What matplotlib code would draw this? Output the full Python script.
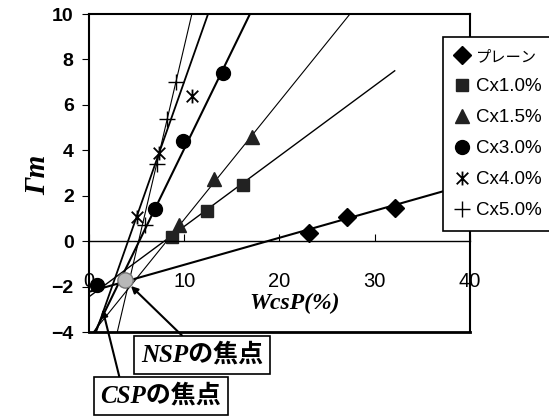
import matplotlib
matplotlib.use('Agg')
import matplotlib.pyplot as plt
from matplotlib.path import Path

# Data points
plain_x = [23.1, 27.1, 32.1]
plain_y = [0.35, 1.06, 1.45]
c10_x = [8.7, 12.35, 16.2]
c10_y = [0.19, 1.32, 2.47]
c15_x = [9.5, 13.1, 17.1]
c15_y = [0.7, 2.73, 4.6]
c30_x = [6.9, 9.9, 14.1]
c30_y = [1.4, 4.42, 7.41]
c40_x = [5.0, 7.4, 10.8]
c40_y = [1.07, 3.86, 6.4]
c50_x = [5.9, 7.1, 8.15, 9.1]
c50_y = [0.7, 3.39, 5.36, 7.02]

# Trend lines (start point, end point)
plain_line_x = [0.0, 40.0]
plain_line_y = [-2.23, 2.53]
c10_line_x = [0.0, 32.1]
c10_line_y = [-2.45, 7.5]
c15_line_x = [0.46, 27.4]
c15_line_y = [-4.0, 10.0]
c30_line_x = [0.62, 16.9]
c30_line_y = [-4.0, 10.0]
c40_line_x = [0.74, 12.5]
c40_line_y = [-4.0, 10.0]
c50_line_x = [2.97, 10.8]
c50_line_y = [-4.0, 10.0]

# focal points
nsp_pt = (3.78, -1.72)
csp_pt = (0.8, -1.94)

labels = ['プレーン', 'Cx1.0%', 'Cx1.5%', 'Cx3.0%', 'Cx4.0%', 'Cx5.0%']

# asterisk-like marker: X with a vertical stroke
ast = Path([(-1, -1), (1, 1), (-1, 1), (1, -1), (0, -1.2), (0, 1.2)],
           [Path.MOVETO, Path.LINETO, Path.MOVETO, Path.LINETO, Path.MOVETO, Path.LINETO])

fig = plt.figure(figsize=(5.49, 4.16), dpi=100)
ax = fig.add_axes([0.1621, 0.2019, 0.856 - 0.1621, 0.9663 - 0.2019])

# trend lines
ax.plot(plain_line_x, plain_line_y, color='black', lw=1.5)
ax.plot(c10_line_x, c10_line_y, color='black', lw=1.0)
ax.plot(c15_line_x, c15_line_y, color='black', lw=0.8)
ax.plot(c30_line_x, c30_line_y, color='black', lw=1.5)
ax.plot(c40_line_x, c40_line_y, color='black', lw=1.3)
ax.plot(c50_line_x, c50_line_y, color='black', lw=0.8)

# markers
ax.plot(plain_x, plain_y, 'D', color='black', ms=9.5, ls='none', label=labels[0])
ax.plot(c10_x, c10_y, 's', color='#222222', ms=9, ls='none', label=labels[1])
ax.plot(c15_x, c15_y, '^', color='#222222', ms=10, ls='none', label=labels[2])
ax.plot(c30_x, c30_y, 'o', color='black', ms=10, ls='none', label=labels[3])
ax.plot(c40_x, c40_y, marker=ast, color='black', ms=10, mew=1.3, ls='none', label=labels[4])
ax.plot(c50_x, c50_y, '+', color='black', ms=12, mew=1.0, ls='none', label=labels[5])

# focal points
ax.plot([nsp_pt[0]], [nsp_pt[1]], 'o', ms=11, mfc='#b8b8b8', mec='#777777', mew=1, zorder=5)
ax.plot([csp_pt[0]], [csp_pt[1]], 'o', ms=10, color='black', zorder=5, clip_on=False)

ax.set_xlim(0, 40)
ax.set_ylim(-4, 10)

# axes frame; x axis drawn at y=0
ax.spines['bottom'].set_position(('data', 0))
ax.spines['bottom'].set_linewidth(1.0)
for s in ['left', 'top', 'right']:
    ax.spines[s].set_linewidth(1.5)
ax.axhline(-4, color='black', lw=2.0, clip_on=False)

ax.set_xticks([0, 10, 20, 30, 40])
ax.set_yticks([-4, -2, 0, 2, 4, 6, 8, 10])
ax.tick_params(axis='x', direction='in', length=5, pad=22, labelsize=14.5)
ax.tick_params(axis='y', direction='out', length=5, pad=6, labelsize=14)
for t in ax.get_xticklabels():
    t.set_fontfamily('Liberation Sans')
for t in ax.get_yticklabels():
    t.set_fontfamily('Liberation Sans')
    t.set_fontweight('bold')

ax.text(21.6, -2.75, 'WcsP(%)', family='Liberation Serif', style='italic', weight='bold',
        fontsize=17, ha='center', va='center')
fig.text(0.068, 1 - 175 / 416, 'Γm', family='Liberation Serif', style='italic', weight='bold',
         fontsize=21, rotation=90, ha='center', va='center')

leg = ax.legend(loc='upper left', bbox_to_anchor=(443 / 549, 1 - 37 / 416),
                bbox_transform=fig.transFigure, frameon=True, fancybox=False,
                borderaxespad=0, handlelength=0.8, handletextpad=0.35, borderpad=0.6,
                labelspacing=0.74,
                prop={'family': ['Liberation Sans', 'Noto Sans CJK JP'], 'size': 13.5})
leg.get_texts()[0].set_fontsize(11)
leg.get_frame().set_edgecolor('black')
leg.get_frame().set_linewidth(1.2)
leg.get_frame().set_alpha(1)

# annotations for focal points
box = dict(boxstyle='square,pad=0.28', fc='white', ec='black', lw=1.2)
ax.annotate('NSPの焦点', xy=nsp_pt, xytext=(202 / 549, 1 - 355 / 416), textcoords='figure fraction',
            family=['Liberation Serif', 'Noto Sans CJK JP'], style='italic', weight='bold', fontsize=18,
            ha='center', va='center', bbox=box, annotation_clip=False,
            arrowprops=dict(arrowstyle='-|>', color='black', lw=1.5, shrinkA=0, shrinkB=6,
                            mutation_scale=10, relpos=(0.4, 1.0)))
ax.annotate('CSPの焦点', xy=csp_pt, xytext=(161 / 549, 1 - 396 / 416), textcoords='figure fraction',
            family=['Liberation Serif', 'Noto Sans CJK JP'], style='italic', weight='bold', fontsize=18,
            ha='center', va='center', bbox=box, annotation_clip=False,
            arrowprops=dict(arrowstyle='-|>', color='black', lw=1.5, shrinkA=0, shrinkB=18,
                            mutation_scale=10, relpos=(0.17, 1.0)))

plt.savefig('out.png', dpi=100)
